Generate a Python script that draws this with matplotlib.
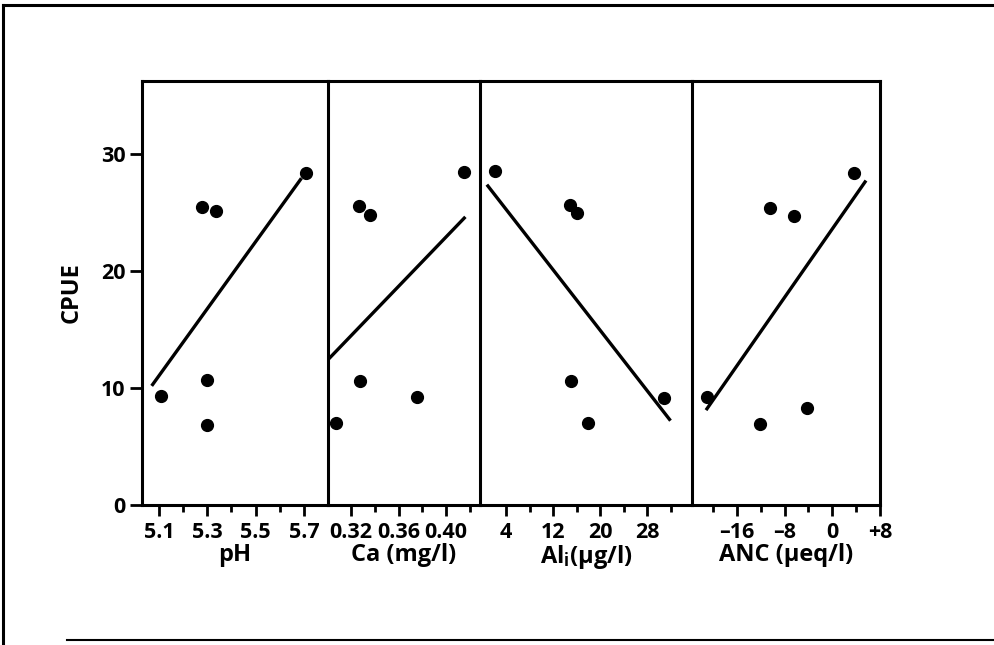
import matplotlib
matplotlib.use("Agg")
import matplotlib.pyplot as plt
from matplotlib.lines import Line2D
from matplotlib.ticker import FixedLocator, FixedFormatter

plt.rcParams['font.family'] = ['Open Sans', 'DejaVu Sans']
plt.rcParams['font.weight'] = 'bold'
plt.rcParams['axes.labelweight'] = 'bold'
plt.rcParams['mathtext.fontset'] = 'custom'
plt.rcParams['mathtext.rm'] = 'Open Sans:bold'
plt.rcParams['mathtext.bf'] = 'Open Sans:bold'
plt.rcParams['mathtext.it'] = 'Open Sans:bold'

# chemistry per site and CPUE, one pair of lists per panel
ph = [5.108, 5.28, 5.335, 5.30, 5.30, 5.71]
ph_cpue = [9.3, 25.4, 25.1, 10.7, 6.8, 28.35]
ca = [0.3074, 0.3267, 0.3357, 0.3273, 0.3756, 0.4152]
ca_cpue = [7.0, 25.55, 24.8, 10.6, 9.26, 28.4]
al = [2.1, 14.9, 16.0, 15.0, 18.0, 30.95]
al_cpue = [28.5, 25.6, 24.9, 10.6, 7.0, 9.1]
anc = [-21.0, -10.4, -6.4, -12.2, -4.3, 3.7]
anc_cpue = [9.26, 25.35, 24.7, 6.9, 8.26, 28.35]

# regression line end points
ph_fit_x, ph_fit_y = [5.07, 5.69], [10.17, 27.9]
ca_fit_x, ca_fit_y = [0.301, 0.4163], [12.45, 24.6]
al_fit_x, al_fit_y = [0.74, 32.0], [27.35, 7.2]
anc_fit_x, anc_fit_y = [-21.2, 5.65], [8.1, 27.7]

# ticks
ph_ticks = [5.1, 5.3, 5.5, 5.7]
ph_minor = [5.2, 5.4, 5.6]
ca_ticks = [0.32, 0.36, 0.40]
ca_minor = [0.34, 0.38, 0.42]
ca_labels = ['0.32', '0.36', '0.40']
al_ticks = [4, 12, 20, 28]
al_minor = [8, 16, 24, 32]
anc_ticks = [-16, -8, 0, 8]
anc_minor = [-20, -12, -4, 4]
anc_labels = ['\u201316', '\u20138', '0', '+8']
y_ticks = [0, 10, 20, 30]

W, H = 994, 645
fig = plt.figure(figsize=(W / 100, H / 100), dpi=100)

# frame around the figure (scanned page border)
fig.add_artist(Line2D([3 / W, 3 / W], [0, 1 - 5 / H], transform=fig.transFigure, color='black', lw=2.2))
fig.add_artist(Line2D([3 / W, 1], [1 - 5 / H, 1 - 5 / H], transform=fig.transFigure, color='black', lw=2.2))
fig.add_artist(Line2D([67 / W, 1], [1 - 640 / H, 1 - 640 / H], transform=fig.transFigure, color='black', lw=1.5))

edges = [142, 328, 480, 692, 880]
top, bottom = 81, 505

panels = [
    (ph, ph_cpue, ph_fit_x, ph_fit_y, (5.03, 5.80), ph_ticks, ph_minor, None, 'pH'),
    (ca, ca_cpue, ca_fit_x, ca_fit_y, (0.3006, 0.4286), ca_ticks, ca_minor, ca_labels, 'Ca (mg/l)'),
    (al, al_cpue, al_fit_x, al_fit_y, (-0.43, 35.66), al_ticks, al_minor, None,
     'Al$_\\mathregular{i}$(\u03bcg/l)'),
    (anc, anc_cpue, anc_fit_x, anc_fit_y, (-23.55, 8.0), anc_ticks, anc_minor, anc_labels,
     'ANC (\u03bceq/l)'),
]

lw = 2.2
for i, (xs, ys, fx, fy, xlim, ticks, minor, labels, xlabel) in enumerate(panels):
    x0, x1 = edges[i], edges[i + 1]
    ax = fig.add_axes([x0 / W, 1 - bottom / H, (x1 - x0) / W, (bottom - top) / H])
    ax.plot(xs, ys, 'o', color='black', ms=8.5, clip_on=False)
    ax.plot(fx, fy, '-', color='black', lw=2.4, solid_capstyle='butt')
    ax.set_xlim(*xlim)
    ax.set_ylim(0, 36.2)
    ax.xaxis.set_major_locator(FixedLocator(ticks))
    ax.xaxis.set_minor_locator(FixedLocator(minor))
    if labels is not None:
        ax.xaxis.set_major_formatter(FixedFormatter(labels))
    ax.tick_params(axis='x', which='major', direction='out', length=8, width=2,
                   labelsize=15.5, pad=4)
    ax.tick_params(axis='x', which='minor', direction='out', length=5, width=2)
    ax.set_xlabel(xlabel, fontsize=17, labelpad=0)
    for s in ['top', 'bottom', 'left', 'right']:
        ax.spines[s].set_linewidth(lw)
    ax.spines['right'].set_visible(i == 3)
    if i == 0:
        ax.set_yticks(y_ticks)
        ax.tick_params(axis='y', direction='out', length=9, width=2, labelsize=15.5, pad=3)
        ax.set_ylabel('CPUE', fontsize=17, labelpad=12)
    else:
        ax.set_yticks([])

fig.savefig('out.png', dpi=100)
